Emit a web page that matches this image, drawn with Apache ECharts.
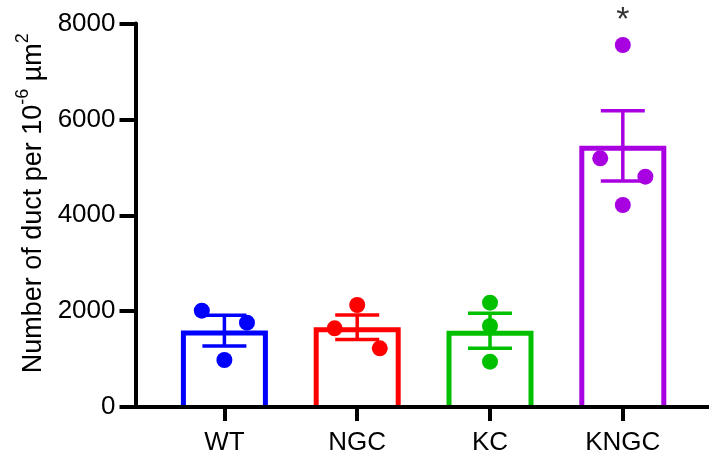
<!DOCTYPE html>
<html>
<head>
<meta charset="utf-8">
<script src="https://cdn.jsdelivr.net/npm/echarts@6/dist/echarts.min.js"></script>
<style>
  html, body { margin: 0; padding: 0; background: #fff; }
  #chart { width: 709px; height: 461px; }
</style>
</head>
<body>
<div id="chart"></div>
<script>
// Groups and their individual measurements
const CATEGORIES = ['WT', 'NGC', 'KC', 'KNGC'];
const WT_POINTS   = [2009, 1759, 980];
const NGC_POINTS  = [2128, 1641, 1224];
const KC_POINTS   = [2176, 1690, 945];
const KNGC_POINTS = [7551, 5188, 4804, 4214];

// Group means and standard errors
const MEANS = [1595, 1665, 1590, 5448];
const SEMS  = [320, 255, 365, 733];

// Significance marker
const SIG_MARK = '*';

// Y axis ticks
const Y_MIN = 0, Y_MAX = 8000, Y_STEP = 2000;

// ---- presentation ----
const COLORS = ['#0000ff', '#ff0000', '#00c000', '#a800e0'];
// horizontal spread of the dots within each group (in category units)
const SPREAD = [
  [-0.17, 0.17, 0],
  [0, -0.17, 0.17],
  [0, 0, 0],
  [0, -0.17, 0.17, 0]
];
const FONT = 'Liberation Sans, Arial, sans-serif';

const groups = [WT_POINTS, NGC_POINTS, KC_POINTS, KNGC_POINTS];

const chart = echarts.init(document.getElementById('chart'), null, { renderer: 'canvas' });

const barData = MEANS.map((m, i) => ({ value: [i + 1, m], itemStyle: { color: COLORS[i] } }));
const errData = MEANS.map((m, i) => ({ value: [i + 1, m, SEMS[i]], itemStyle: { color: COLORS[i] } }));

const scatterSeries = groups.map((pts, i) => ({
  type: 'scatter',
  z: 4,
  symbol: 'circle',
  symbolSize: 16,
  itemStyle: { color: COLORS[i], opacity: 1 },
  data: pts.map((v, j) => [i + 1 + SPREAD[i][j], v]),
  silent: true
}));

const option = {
  animation: false,
  grid: { left: 135.5, right: 0, top: 23.5, bottom: 54 },
  xAxis: {
    type: 'value',
    min: 0.3306,
    max: 4.649,
    z: 6,
    splitLine: { show: false },
    axisLine: { show: true, lineStyle: { color: '#000', width: 4 } },
    axisTick: { show: true, customValues: [1, 2, 3, 4], length: 14, lineStyle: { color: '#000', width: 4 } },
    axisLabel: {
      customValues: [1, 2, 3, 4],
      formatter: v => CATEGORIES[Math.round(v) - 1] || '',
      margin: 23,
      color: '#000',
      fontFamily: FONT,
      fontSize: 26
    }
  },
  yAxis: {
    type: 'value',
    min: Y_MIN,
    max: Y_MAX,
    interval: Y_STEP,
    z: 6,
    splitLine: { show: false },
    axisLine: { show: true, lineStyle: { color: '#000', width: 4 } },
    axisTick: { show: true, length: 16, lineStyle: { color: '#000', width: 4 } },
    axisLabel: { margin: 20, color: '#000', fontFamily: FONT, fontSize: 26, formatter: v => String(v) },
    name: '{a|Number of duct per 10}{s|-6}{a| µm}{s|2}',
    nameLocation: 'middle',
    nameRotate: 90,
    nameGap: 82,
    nameTextStyle: {
      fontFamily: FONT,
      color: '#000',
      padding: [0, 0, 0, 24],
      rich: {
        a: { fontFamily: FONT, fontSize: 27, color: '#000' },
        s: { fontFamily: FONT, fontSize: 18, color: '#000', padding: [0, 0, 20, 0] }
      }
    }
  },
  series: [
    {
      // hollow bars, outline drawn inside the bar outline
      type: 'custom',
      z: 2,
      silent: true,
      data: barData,
      renderItem: (params, api) => {
        const x = api.value(0);
        const top = api.coord([x, api.value(1)]);
        const base = api.coord([x, 0]);
        const half = 41, lw = 5;
        return {
          type: 'polyline',
          shape: {
            points: [
              [top[0] - half, base[1]],
              [top[0] - half, top[1] + lw / 2],
              [top[0] + half, top[1] + lw / 2],
              [top[0] + half, base[1]]
            ]
          },
          style: { stroke: api.visual('color'), lineWidth: lw, fill: null, lineJoin: 'miter' }
        };
      }
    },
    {
      // mean ± SEM error bars
      type: 'custom',
      z: 3,
      silent: true,
      data: errData,
      renderItem: (params, api) => {
        const x = api.value(0), m = api.value(1), e = api.value(2);
        const hi = api.coord([x, m + e]);
        const lo = api.coord([x, m - e]);
        const cap = 22;
        const st = { stroke: api.visual('color'), lineWidth: 3.5 };
        return {
          type: 'group',
          children: [
            { type: 'line', shape: { x1: hi[0], y1: hi[1], x2: lo[0], y2: lo[1] }, style: st },
            { type: 'line', shape: { x1: hi[0] - cap, y1: hi[1], x2: hi[0] + cap, y2: hi[1] }, style: st },
            { type: 'line', shape: { x1: lo[0] - cap, y1: lo[1], x2: lo[0] + cap, y2: lo[1] }, style: st }
          ]
        };
      }
    },
    ...scatterSeries,
    {
      // significance annotation above KNGC
      type: 'scatter',
      z: 5,
      symbolSize: 0,
      silent: true,
      data: [[4, Y_MAX]],
      label: {
        show: true,
        position: 'inside',
        formatter: () => SIG_MARK,
        offset: [0, -3],
        color: '#000',
        fontFamily: FONT,
        fontSize: 34
      }
    }
  ]
};

chart.setOption(option);
</script>
</body>
</html>
